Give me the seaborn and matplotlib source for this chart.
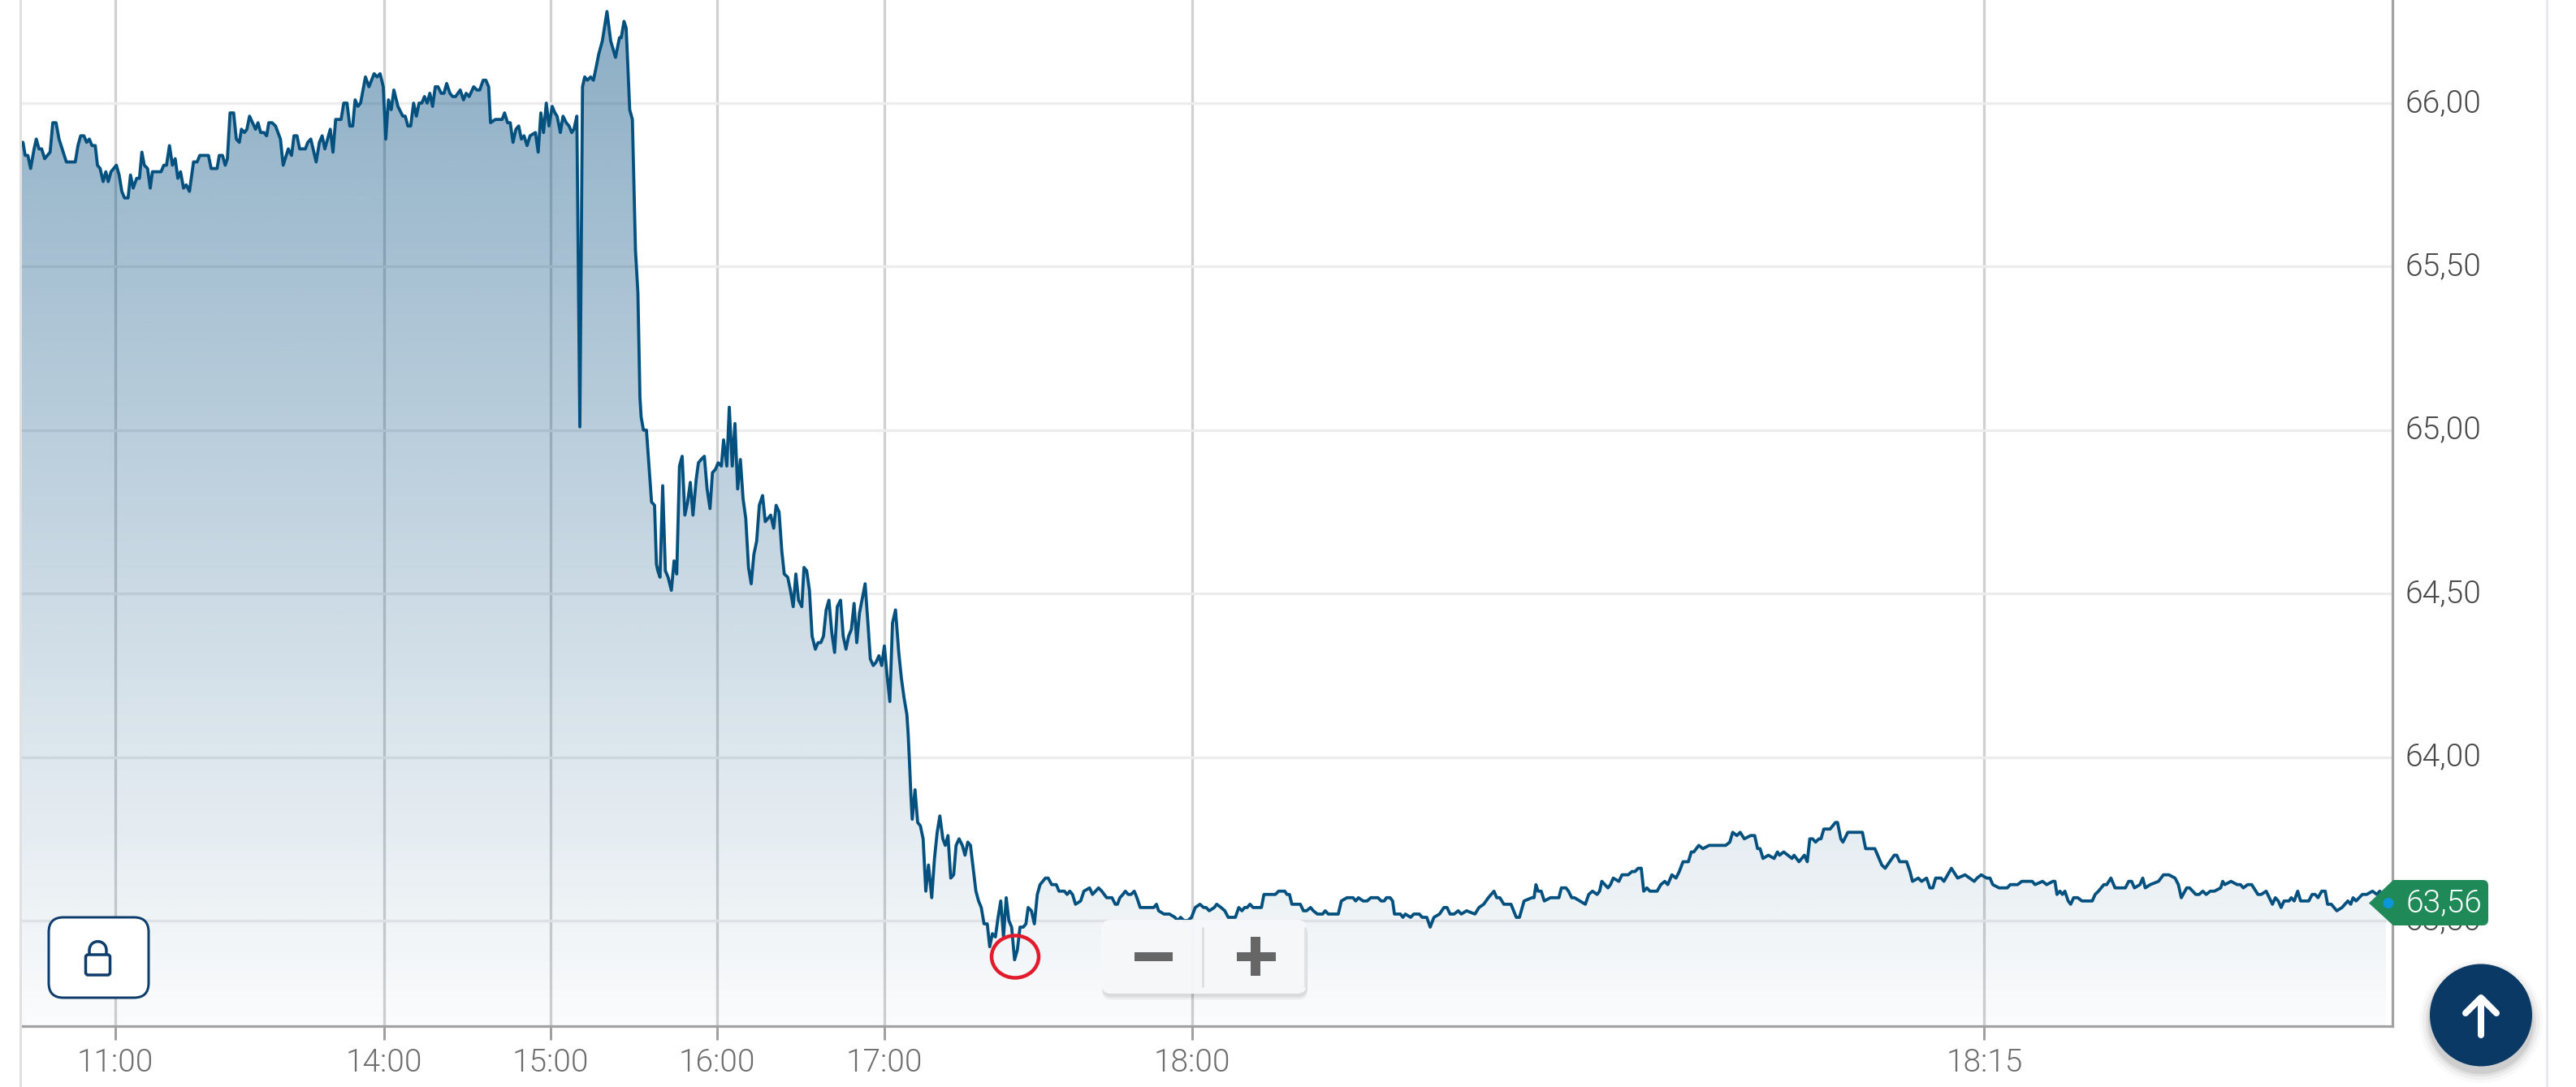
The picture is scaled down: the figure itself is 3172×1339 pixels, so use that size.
import numpy as np
import pandas as pd
import seaborn as sns
import matplotlib
matplotlib.use("Agg")
import matplotlib.pyplot as plt
from matplotlib.patches import FancyBboxPatch, Ellipse, Circle, Polygon, PathPatch, Rectangle
from matplotlib.path import Path
from matplotlib.transforms import ScaledTranslation

# ---------- data ----------
# position along the (non-linear) intraday session axis, and the quoted price
pos_a = [26.7,28.3,31,34.3,37.7,42,44.7,48,51.3,55,61.7,65,69,72.7,81.7,92.7,96,99.3,103.3,106.7,110,113.3,117.3,120,123.3,127,130.3,133.3,136.7,143.3,146.7,150,153.3,157.7,160.7,164,168.3,171.7,174.7,177.7,181.7,185,187.7,198.3,201.7,205,208.7,212.3,215.7,219,222.3,226,229.3,233.3,238.3,242.7,246,256.7,260,267.3,270,274,277.3,280,283.3,287.7,291,294.7,297.3,301,304,307.3,314.7,317.7,321,325,328.3,331,335,339.3,345.3,348.7,355,359,362,365.7,369,376,379,382.7,389.3,393.3,396.7,400,406.7,410,413.3,420,423.3,427.3,430.7,434.3,437.3,440.7,444,450,454.3,460.7,464.3,468,472,475,478.3,481.7,485,490,496,499,502.3,505.7,509.3,512.7,516]
price_a = [65.88,65.88,65.84,65.84,65.80,65.86,65.89,65.86,65.86,65.83,65.85,65.94,65.94,65.89,65.82,65.82,65.87,65.90,65.90,65.88,65.89,65.87,65.87,65.81,65.80,65.76,65.79,65.76,65.79,65.81,65.78,65.73,65.71,65.71,65.78,65.74,65.77,65.77,65.85,65.81,65.80,65.74,65.79,65.79,65.81,65.81,65.87,65.81,65.83,65.77,65.79,65.74,65.75,65.73,65.82,65.82,65.84,65.84,65.80,65.80,65.84,65.84,65.81,65.83,65.97,65.97,65.89,65.88,65.92,65.91,65.92,65.96,65.92,65.94,65.91,65.91,65.90,65.94,65.94,65.93,65.89,65.81,65.86,65.84,65.90,65.90,65.86,65.86,65.88,65.89,65.82,65.88,65.90,65.86,65.92,65.85,65.95,65.95,66.00,66.00,65.93,65.93,66.01,65.99,66.00,66.08,66.05,66.09,66.08,66.09,66.05,65.89,66.01,65.98,66.04,65.99,65.96,65.96,65.93,65.93,66.00,65.96,66.00]

pos_b = [519.3,522.7,526,529.3,532.7,536,539.3,543.3,546.7,550,554,557.3,561,566.7,570.7,574,577.7,583.3,587.3,590.7,595,598.3,601.7,604,610,618.3,621.3,625,628.3,631.7,635.3,638.7,642,645.3,649,652.7,659.3,662.7,666,669.3,672.7,676,680,683.3,686,690,693.3,697.3,700.7,704,706.7,710.3,714,717.3,720,723.3,727.3,730.7,733.3,737.3,741.7,747.4,752,757.9,762.8,765,768.4,771,773,775.4,778.7,782.5,785.5,787,788,789.5,792.3,796]
price_b = [66.00,66.02,66.00,66.03,65.99,66.05,66.05,66.03,66.03,66.06,66.03,66.02,66.02,66.04,66.01,66.03,66.02,66.05,66.04,66.04,66.07,66.07,66.05,65.94,65.95,65.95,65.97,65.94,65.94,65.88,65.92,65.93,65.89,65.90,65.87,65.90,65.91,65.85,65.97,65.91,66.00,65.93,65.99,65.97,65.96,65.91,65.96,65.94,65.93,65.91,65.92,65.96,65.01,66.05,66.08,66.07,66.08,66.07,66.10,66.15,66.19,66.28,66.19,66.14,66.20,66.20,66.25,66.23,66.12,65.98,65.95,65.55,65.42,65.23,65.10,65.04,65.00,65.00]

pos_c = [798.3,802.3,806,808.3,810,812.7,816,819.3,822.7,826.7,830,833.3,836.7,840,843.3,846.7,850,853.3,857.3,860,863.3,867.3,870.7,874.3,877.3,881,884.3,888.3,891,895,898,901.7,905,908.3,911.7,915,918.3,921.7,925,928.3,931.7,935,939,942.3,945.7,949,952.7,955.7,959.3,962.7,965.7,970,973.3,976.7,980,983.3,987.3,990,993.3,996.7,1000,1004,1007.3,1010.7,1014,1017.3,1020.7,1024.3,1027.7,1031,1035,1038.3,1041.7,1045,1048.3,1051.7,1055,1058.3,1065.3,1069,1071.7,1075.3,1078.7,1082.3,1085.7,1089,1092.3,1095.7,1099,1102.7,1106.7,1110,1113.3,1116.7]
price_c = [64.92,64.78,64.77,64.59,64.57,64.55,64.83,64.57,64.55,64.51,64.60,64.56,64.89,64.92,64.74,64.78,64.84,64.74,64.85,64.90,64.91,64.92,64.82,64.76,64.87,64.88,64.90,64.89,64.97,64.89,65.07,64.89,65.02,64.82,64.91,64.79,64.73,64.58,64.53,64.62,64.66,64.77,64.80,64.72,64.73,64.74,64.70,64.77,64.75,64.63,64.56,64.55,64.51,64.46,64.56,64.48,64.46,64.58,64.57,64.51,64.37,64.33,64.35,64.35,64.37,64.45,64.48,64.38,64.32,64.46,64.48,64.37,64.33,64.37,64.39,64.47,64.35,64.44,64.53,64.40,64.30,64.28,64.29,64.31,64.28,64.34,64.25,64.17,64.41,64.45,64.32,64.24,64.18,64.13]

pos_d = [1118.3,1120,1121.7,1123.3,1126.7,1130,1133.3,1136.7,1140,1143.3,1147.3,1150.7,1154,1157.3,1161,1164,1167.3,1170.7,1174.3,1177.3,1181,1185,1188.3,1191.7,1195,1198.3,1201.7,1205,1208.3,1211.7,1215.7,1218.7,1222,1225.7,1229,1232.3,1235.7,1239,1242.3,1245.7,1249.3,1252.7,1256,1260,1263.3,1266,1270,1273.7,1277.3,1280.7,1284,1287.3,1290.7,1295,1300.7,1304,1310.7,1314,1317.3,1320.7,1324.3,1330.7,1334.7,1341.7,1345.3,1352.7,1356.7,1362.7,1366.7,1369.3,1373.3,1376,1379,1382.7,1385.7,1389.3,1392.7,1396.7,1400,1404,1407.3,1413.3,1416.7,1420.7,1424,1426.7,1433.3,1436,1440,1446.7,1450,1453.8,1457.7,1462.6,1467.2]
price_d = [64.07,63.98,63.88,63.81,63.90,63.80,63.79,63.75,63.59,63.67,63.57,63.69,63.77,63.82,63.75,63.73,63.76,63.63,63.64,63.73,63.75,63.73,63.70,63.74,63.73,63.66,63.59,63.56,63.54,63.49,63.49,63.42,63.46,63.45,63.51,63.56,63.45,63.57,63.50,63.48,63.38,63.41,63.48,63.48,63.49,63.54,63.53,63.49,63.58,63.61,63.62,63.63,63.63,63.61,63.61,63.59,63.59,63.58,63.59,63.58,63.55,63.56,63.59,63.60,63.58,63.60,63.59,63.57,63.57,63.57,63.55,63.55,63.57,63.58,63.59,63.58,63.58,63.59,63.57,63.54,63.54,63.54,63.54,63.54,63.55,63.53,63.52,63.52,63.52,63.51,63.50,63.51,63.50,63.50,63.51]

pos_e = [1471.8,1477.6,1482.1,1485.2,1489,1495.2,1498.2,1503.6,1508.2,1512.4,1515.8,1521.2,1525.4,1529.2,1532.7,1535.7,1539.2,1543,1553.3,1556.4,1559.5,1564,1570.5,1574.4,1579,1582,1584.7,1587.8,1590.8,1597.3,1601.2,1605,1608.8,1613.8,1617.2,1622.2,1628.7,1631.8,1635.6,1639.4,1642.5,1647.9,1651.7,1658.6,1666.2,1669.3,1672.7,1678.5,1683.4,1688,1691,1696.8,1700.7,1704.5,1707.2,1711.8,1714.8,1717.1,1721.7,1724.4,1727.5,1730.5,1737,1740.9,1747.7,1751.2,1756.9,1761.1,1765.7,1772.6,1778,1781.8,1785.6,1790.6,1795.6,1799.4,1805.9,1816.2,1821.2,1827,1832.7,1839.6,1843,1846.9,1851.8,1857.6,1860.6,1867.1,1871,1876.7,1886.3,1889,1891.3,1893.9,1897.8,1901.6,1909.2,1916.9,1919.6,1922.6,1928.4,1931.4,1935.3,1938.7,1952.1,1956.3,1960.9,1966.6,1969.7,1972.4,1980,1983.1,1986.5,1993.4,1997.3,2004.9,2009.5,2013.3,2017.1,2021,2024,2027.9,2031.7,2034.8,2040.5,2045.1,2050]
price_e = [63.54,63.55,63.54,63.54,63.53,63.54,63.55,63.54,63.53,63.51,63.51,63.51,63.54,63.53,63.54,63.54,63.55,63.54,63.54,63.58,63.58,63.58,63.58,63.59,63.59,63.59,63.58,63.58,63.55,63.55,63.55,63.53,63.53,63.54,63.53,63.52,63.52,63.53,63.52,63.52,63.52,63.52,63.56,63.57,63.57,63.56,63.57,63.56,63.56,63.57,63.57,63.57,63.56,63.56,63.57,63.57,63.56,63.52,63.52,63.52,63.51,63.52,63.51,63.52,63.52,63.51,63.51,63.48,63.51,63.52,63.54,63.54,63.52,63.52,63.53,63.52,63.53,63.52,63.54,63.55,63.57,63.59,63.57,63.57,63.55,63.55,63.55,63.51,63.51,63.56,63.57,63.57,63.61,63.59,63.59,63.56,63.57,63.57,63.57,63.60,63.60,63.59,63.57,63.57,63.55,63.58,63.59,63.58,63.59,63.62,63.60,63.61,63.63,63.62,63.64,63.64,63.65,63.65,63.66,63.66,63.59,63.60,63.59,63.59,63.59,63.61,63.62]

pos_f = [2053.6,2058.7,2063.8,2067.8,2072.4,2079,2082.6,2085.7,2091.8,2096.9,2104.6,2111.2,2125,2130,2133.6,2138.7,2142.8,2147.9,2155.6,2160.7,2164.2,2167.3,2170.9,2177.5,2184.6,2188.7,2191.3,2196.4,2206.6,2209.1,2215.2,2221.9,2225.4,2228.5,2232,2235.6,2239.7,2242.3,2245.8,2253.5,2260.1,2262.7,2266.7,2269.3,2275.4,2279.5,2284.6,2293.3,2297.3,2303.5,2308.6,2312.1,2317.2,2321.3,2332.5,2335.6,2339.2,2347.8,2351.9,2355,2362.1,2366.2,2372.3,2376.4,2380,2383.5,2390.2,2393.7,2402.9,2410.6,2419.7,2431,2434.5,2439.6,2446.3,2450.4,2453.9,2461.6,2465.1,2468.2,2471.7,2475.3,2484.5,2489.6,2495.7,2502.4,2505.9,2515.1,2520.2,2527.8,2530.4,2532.9,2536.5,2539.6,2542.6,2546.7,2549.8,2553.4,2558.5,2563.6,2567.1,2576.3,2579.9,2584,2590.6,2594.2,2599.3,2604.4,2617.1,2621.2,2624.8,2628.3,2635,2638.5,2641.6,2647.7,2657.9,2664,2670.7,2678.3,2682.4,2686,2692.6,2696.2,2703.8,2707.9,2712.5,2716.6,2721.7,2726.8,2734.4,2737,2739.5,2747.2,2754.8,2758.9,2762.4,2767.6,2772.7,2780.3,2784.4,2790.5]
price_f = [63.61,63.64,63.63,63.65,63.68,63.68,63.71,63.71,63.73,63.72,63.73,63.73,63.73,63.74,63.77,63.76,63.77,63.75,63.76,63.76,63.72,63.72,63.69,63.70,63.69,63.71,63.70,63.71,63.69,63.70,63.68,63.70,63.68,63.75,63.75,63.74,63.75,63.75,63.78,63.78,63.80,63.80,63.75,63.74,63.77,63.77,63.77,63.77,63.72,63.72,63.72,63.70,63.67,63.66,63.70,63.70,63.68,63.68,63.65,63.62,63.63,63.62,63.63,63.60,63.60,63.63,63.63,63.62,63.66,63.63,63.64,63.62,63.63,63.64,63.63,63.63,63.61,63.60,63.60,63.60,63.60,63.61,63.61,63.62,63.62,63.62,63.61,63.62,63.61,63.62,63.62,63.58,63.59,63.58,63.59,63.56,63.55,63.57,63.57,63.56,63.56,63.56,63.58,63.59,63.61,63.61,63.63,63.60,63.60,63.62,63.62,63.60,63.61,63.63,63.60,63.61,63.62,63.64,63.64,63.63,63.61,63.57,63.60,63.60,63.58,63.58,63.59,63.58,63.59,63.59,63.60,63.62,63.61,63.62,63.61,63.61,63.60,63.61,63.61,63.58,63.58,63.59]

pos_g = [2798.2,2801.8,2805.4,2808.9,2812.5,2818.6,2821.4,2825,2829.3,2832.9,2837.5,2842.9,2847.1,2850.7,2854.3,2858.9,2863.2,2866.1,2870.7,2877.5,2883.9,2891.1,2894.6,2897.5,2901.1,2908.9,2914.3,2921.4,2926.8,2930.4,2938]
price_g = [63.55,63.57,63.56,63.54,63.56,63.56,63.57,63.56,63.59,63.56,63.56,63.56,63.58,63.58,63.57,63.59,63.59,63.55,63.55,63.53,63.54,63.56,63.55,63.57,63.56,63.58,63.58,63.59,63.58,63.59,63.56]

time_ticks = [141.5, 472.8, 678, 883, 1089, 1468, 2443.4]
time_labels = ["11:00", "14:00", "15:00", "16:00", "17:00", "18:00", "18:15"]
price_ticks = [66.0, 65.5, 65.0, 64.5, 64.0, 63.5]
price_labels = ["66,00", "65,50", "65,00", "64,50", "64,00", "63,50"]
last_label = "63,56"

chart = pd.DataFrame({
    "position": pos_a + pos_b + pos_c + pos_d + pos_e + pos_f + pos_g,
    "price": price_a + price_b + price_c + price_d + price_e + price_f + price_g,
})

# ---------- figure ----------
W, H = 3172, 1339
DPI = 100
PX = 72 / DPI
sns.set_theme(style="white")
plt.rcParams["font.family"] = ["Roboto", "DejaVu Sans"]

fig = plt.figure(figsize=(W / DPI, H / DPI), dpi=DPI, facecolor="white")
L, R, T, B = 26, 2946, 0, 1264
ax = fig.add_axes([L / W, 1 - B / H, (R - L) / W, (B - T) / H])
ax.set_facecolor("white")

LINE = "#04507F"
sns.lineplot(data=chart, x="position", y="price", estimator=None, sort=False,
             color=LINE, linewidth=3.8 * PX, ax=ax, zorder=5)
ax.lines[0].set_solid_joinstyle("round")

ymin, ymax = 63.1773, 66.3153
xmin, xmax = L, R

# gradient area under the line
grad = np.zeros((256, 1, 4))
grad[..., 0] = 0 / 255
grad[..., 1] = 75 / 255
grad[..., 2] = 127 / 255
grad[..., 3] = np.linspace(0.46, 0.02, 256)[:, None]
poly = ax.fill_between(chart["position"], chart["price"], ymin, color="none", lw=0)
img = ax.imshow(grad, extent=[xmin, xmax, ymin, ymax], origin="upper",
                aspect="auto", zorder=3, interpolation="bilinear")
img.set_clip_path(poly.get_paths()[0], transform=ax.transData)

ax.set_xlim(xmin, xmax)
ax.set_ylim(ymin, ymax)
ax.set_xticks(time_ticks, time_labels)
ax.set_yticks(price_ticks, price_labels)
ax.set_xlabel("")
ax.set_ylabel("")
ax.yaxis.tick_right()

ax.set_axisbelow(True)
ax.xaxis.grid(True, color="#D0D0D0", linewidth=3.3 * PX)
ax.yaxis.grid(True, color="#ECECEC", linewidth=3.3 * PX)
ax.tick_params(axis="x", length=17 * PX, width=3 * PX, color="#A0A0A0",
               labelsize=28, labelcolor="#6E6E6E", pad=7, bottom=True)
ax.tick_params(axis="y", length=0, labelsize=28, labelcolor="#484848", pad=11.5)
shift_up = ScaledTranslation(0, 4 * PX / 72, fig.dpi_scale_trans)
for t in ax.get_xticklabels() + ax.get_yticklabels():
    t.set_fontweight(300)
for t in ax.get_yticklabels():
    t.set_transform(t.get_transform() + shift_up)

for s in ["top", "left"]:
    ax.spines[s].set_visible(False)
for s in ["bottom", "right"]:
    ax.spines[s].set_visible(True)
    ax.spines[s].set_color("#A2A2A2")
    ax.spines[s].set_linewidth(3.2 * PX)

# ---------- interface elements, in picture pixels ----------
ui = fig.add_axes([0, 0, 1, 1], facecolor="none", zorder=10)
ui.set_xlim(0, W)
ui.set_ylim(H, 0)
ui.axis("off")

# page rules
ui.plot([25, 25], [0, H], color="#E0E0E0", lw=3 * PX, zorder=1)
ui.plot([3136, 3136], [0, H], color="#E6EAF0", lw=3 * PX, zorder=1)

# lock button
NAVY = "#0E3D6C"
ui.add_patch(FancyBboxPatch((60, 1130), 123, 99, boxstyle="round,pad=0,rounding_size=18",
                            fc="white", ec=NAVY, lw=3 * PX, zorder=3))
ui.add_patch(FancyBboxPatch((105.5, 1176), 30, 25, boxstyle="round,pad=0,rounding_size=3",
                            fc="white", ec=NAVY, lw=3.5 * PX, zorder=4))
shackle = Path([(110, 1177), (110, 1171), (110, 1156), (131, 1156), (131, 1171), (131, 1177)],
               [Path.MOVETO, Path.LINETO, Path.CURVE4, Path.CURVE4, Path.CURVE4, Path.LINETO])
ui.add_patch(PathPatch(shackle, fc="none", ec=NAVY, lw=3.5 * PX, zorder=4))

# zoom buttons
for off, a in [(7, 0.03), (5, 0.04), (3, 0.05)]:
    ui.add_patch(FancyBboxPatch((1357, 1134 + off), 253, 91, boxstyle="round,pad=0,rounding_size=12",
                                fc="black", ec="none", alpha=a, zorder=2))
ui.add_patch(FancyBboxPatch((1356, 1133), 253, 91, boxstyle="round,pad=0,rounding_size=12",
                            fc="#F8F9FB", ec="none", alpha=0.95, zorder=3))
ui.plot([1481, 1481], [1143, 1215], color="#DEDFE1", lw=3 * PX, zorder=4)
ui.plot([1606.5, 1606.5], [1143, 1215], color="#E2E3E5", lw=3 * PX, zorder=4)
GREY = "#666666"
ui.add_patch(Rectangle((1397, 1173), 47, 11, fc=GREY, ec="none", zorder=5))
ui.add_patch(Rectangle((1523, 1173), 48, 11, fc=GREY, ec="none", zorder=5))
ui.add_patch(Rectangle((1540, 1154), 12, 48, fc=GREY, ec="none", zorder=5))

# red hand-drawn marker
ui.add_patch(Ellipse((1250, 1178.5), 58, 52, fc="none", ec="#E21B2C", lw=4.5 * PX, zorder=6))

# last-price tag
GREEN = "#1F8A58"
ui.add_patch(FancyBboxPatch((2950, 1084), 114, 56, boxstyle="round,pad=0,rounding_size=7",
                            fc=GREEN, ec="none", zorder=6))
ui.add_patch(Polygon([(2917, 1112.5), (2947, 1084), (2960, 1084), (2960, 1140), (2947, 1140)],
                     closed=True, fc=GREEN, ec="none", zorder=6))
ui.add_patch(Circle((2941, 1112.5), 6.5, fc="#0A96D8", ec="none", zorder=7))
ui.text(3009, 1112, last_label, color="white", fontsize=28, fontweight=300,
        ha="center", va="center", zorder=8)

# scroll-to-top button
for r, a in [(76, 0.025), (72, 0.04), (68, 0.06), (65, 0.08)]:
    ui.add_patch(Circle((3055, 1258), r, fc="black", ec="none", alpha=a, zorder=3))
ui.add_patch(Circle((3055, 1250.5), 63, fc="#0B3966", ec="none", zorder=4))
ui.plot([3055, 3055], [1231, 1275], color="white", lw=8 * PX, solid_capstyle="round", zorder=5)
ui.plot([3036, 3055, 3074], [1248, 1229, 1248], color="white", lw=8 * PX,
        solid_capstyle="round", solid_joinstyle="round", zorder=5)

fig.savefig("out.png", dpi=DPI, facecolor="white")
